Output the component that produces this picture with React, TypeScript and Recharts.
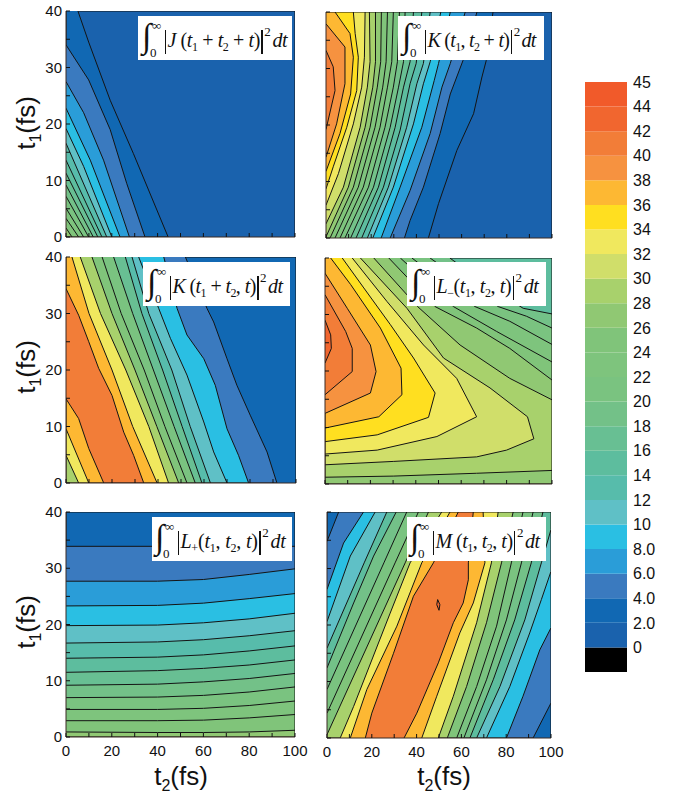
import React from "react";
import { ScatterChart, Scatter, XAxis, YAxis, BarChart, Bar } from "recharts";

type Pt = [number, number];
type Contour = { level: number; pts: Pt[] };

// colour of the band that starts at each contour level
const bandLevels = [-2, 0, 2, 4, 6, 8, 10, 12, 14, 16, 18, 20, 22, 24, 26, 28, 30, 32, 34, 36, 38, 40, 42, 44];
const bandColors = ["#000000", "#1a62ad", "#1168b3", "#3a7abf", "#2a9dd8", "#2abfe3", "#5fc0c6", "#57bcab", "#5dbd9e", "#68bf93", "#73c188", "#7ac380", "#7ec47d", "#80c47a", "#90c873", "#a8d16c", "#d0de6a", "#f0e85e", "#ffdf20", "#fdb833", "#f69240", "#f27d38", "#f1662f", "#f15a2a"];
const colorOf = (level: number) => bandColors[bandLevels.indexOf(level)];

const colorbarTicks = [0, 2, 4, 6, 8, 10, 12, 14, 16, 18, 20, 22, 24, 26, 28, 30, 32, 34, 36, 38, 40, 42, 44, 46];
const colorbarLabels = ["0", "2.0", "4.0", "6.0", "8.0", "10", "12", "14", "16", "18", "20", "22", "24", "26", "28", "30", "32", "34", "36", "38", "40", "42", "44", "45"];
const colorbarSizes = [-2, 2, 2, 2, 2, 2, 2, 2, 2, 2, 2, 2, 2, 2, 2, 2, 2, 2, 2, 2, 2, 2, 2, 2];

const xTicks = [0, 10, 20, 30, 40, 50, 60, 70, 80, 90, 100];
const yTicks = [0, 5, 10, 15, 20, 25, 30, 35, 40];

const full: Pt[] = [[0, 0], [0, 40], [100, 40], [100, 0]];

const panelJ: Contour[] = [
  { level: 0, pts: full },
  { level: 2, pts: [[5.2, 40], [9.9, 34.5], [19.3, 24.2], [29.4, 14.8], [44.6, 0], [0, 0], [0, 40]] },
  { level: 4, pts: [[0, 34], [9.9, 27.8], [19.3, 19], [26.5, 9.5], [34.5, 0], [0, 0]] },
  { level: 6, pts: [[0, 27.5], [7.7, 22], [16.4, 13.6], [27.7, 0], [0, 0]] },
  { level: 8, pts: [[0, 22.8], [10.6, 13.6], [23.6, 0], [0, 0]] },
  { level: 10, pts: [[0, 19.2], [7.7, 12.5], [20, 0], [0, 0]] },
  { level: 12, pts: [[0, 16.6], [17.8, 0], [0, 0]] },
  { level: 14, pts: [[0, 13.6], [15.7, 0], [0, 0]] },
  { level: 16, pts: [[0, 11.3], [13.9, 0], [0, 0]] },
  { level: 18, pts: [[0, 9.2], [11.9, 0], [0, 0]] },
  { level: 20, pts: [[0, 7.2], [9.9, 0], [0, 0]] },
  { level: 22, pts: [[0, 5.1], [7.7, 0], [0, 0]] },
  { level: 24, pts: [[0, 3.3], [5.5, 0], [0, 0]] },
  { level: 26, pts: [[0, 1.6], [2.6, 0], [0, 0]] },
];

const panelK1: Contour[] = [
  { level: 0, pts: full },
  { level: 2, pts: [[45.3, 0], [49.8, 6.1], [57.9, 15.5], [65.3, 22], [69, 28.5], [70.9, 31.4], [73.9, 40], [0, 40], [0, 0]] },
  { level: 4, pts: [[34.7, 0], [37.2, 3.1], [43.1, 9], [50.5, 18.5], [55, 25.5], [60.6, 31.4], [66.8, 40], [0, 40], [0, 0]] },
  { level: 6, pts: [[28.4, 0], [37.2, 8.4], [46.1, 18.5], [51.3, 26.7], [55, 30.9], [61.6, 40], [0, 40], [0, 0]] },
  { level: 8, pts: [[24.4, 0], [32.8, 9], [42.4, 19.6], [47.9, 27.9], [49.8, 30.9], [55, 40], [0, 40], [0, 0]] },
  { level: 10, pts: [[20.7, 0], [29.8, 9], [38.7, 20.2], [43.1, 27.3], [46.1, 31.2], [50.8, 40], [0, 40], [0, 0]] },
  { level: 12, pts: [[18.3, 0], [27.6, 9], [35.7, 19.6], [40.2, 27.3], [43.1, 30.9], [46.1, 40], [0, 40], [0, 0]] },
  { level: 14, pts: [[15.8, 0], [25.4, 9], [32.8, 19.1], [37.2, 27.3], [39.9, 30.9], [42.4, 40], [0, 40], [0, 0]] },
  { level: 16, pts: [[13.3, 0], [23.2, 9], [30.6, 19.6], [34.3, 26.7], [37.2, 31.2], [38.7, 40], [0, 40], [0, 0]] },
  { level: 18, pts: [[10.9, 0], [21, 9], [28.4, 19.6], [32.1, 26.7], [34.3, 31.2], [35, 40], [0, 40], [0, 0]] },
  { level: 20, pts: [[8.4, 0], [18.8, 9], [26.1, 19.6], [29.8, 26.7], [31.6, 31.2], [32.5, 40], [0, 40], [0, 0]] },
  { level: 22, pts: [[6.2, 0], [16.5, 9], [23.9, 19.6], [27.2, 26.7], [29.1, 31.2], [29.8, 40], [0, 40], [0, 0]] },
  { level: 24, pts: [[4, 0], [14.3, 9], [21.7, 19.6], [25.1, 26.7], [26.6, 31.2], [27.2, 40], [0, 40], [0, 0]] },
  { level: 26, pts: [[1.8, 0], [12.1, 9], [19.5, 19.6], [22.7, 26.7], [24.2, 31.2], [24.5, 40], [0, 40], [0, 0]] },
  { level: 28, pts: [[0, 0.2], [9.9, 9], [17.3, 19.6], [20.7, 26.7], [21.9, 31.2], [21.9, 40], [0, 40]] },
  { level: 30, pts: [[0, 2.5], [7.7, 9], [15.1, 19.6], [18.3, 26.7], [19.5, 31.2], [19.2, 40], [0, 40]] },
  { level: 32, pts: [[0, 5.8], [5.5, 11.4], [12.1, 20.2], [15.8, 26.7], [17, 32], [17.3, 40], [0, 40]] },
  { level: 34, pts: [[0, 8.7], [3.2, 12.6], [9.2, 19.6], [13.6, 26.1], [14.3, 32], [12.9, 36.2], [12.1, 40], [0, 40]] },
  { level: 36, pts: [[0, 11.8], [6.2, 18.5], [10.9, 25.5], [12.1, 32], [10.6, 36.2], [4, 40], [0, 40]] },
  { level: 38, pts: [[0, 14.3], [4.7, 20.2], [8.4, 27.3], [8.4, 33.8], [0, 37.9]] },
  { level: 40, pts: [[0, 19.2], [4, 26.1], [3.2, 30.3], [0, 33.2]] },
];

const panelK2: Contour[] = [
  { level: 2, pts: full },
  { level: 4, pts: [[51.9, 40], [61.3, 30.9], [64.2, 28.5], [70, 22], [74.3, 17.3], [80.1, 12], [87.4, 5.5], [91.7, 0], [0, 0], [0, 40]] },
  { level: 8, pts: [[42.5, 40], [48.3, 30.9], [52.6, 26.2], [59.9, 22], [64.9, 17.3], [70, 9.6], [75, 4.9], [79.4, 0], [0, 0], [0, 40]] },
  { level: 10, pts: [[31.6, 40], [40.3, 30.9], [45.4, 25.6], [52.6, 19.1], [59.9, 10.8], [64.2, 5.5], [70, 0], [0, 0], [0, 40]] },
  { level: 12, pts: [[28.7, 40], [36, 30], [46, 20], [54, 10], [62.8, 0], [0, 0], [0, 40]] },
  { level: 16, pts: [[25.8, 40], [33, 30], [42, 20], [50.5, 10], [59.1, 0], [0, 0], [0, 40]] },
  { level: 20, pts: [[20.7, 40], [29, 30], [38, 20], [47, 10], [56.2, 0], [0, 0], [0, 40]] },
  { level: 24, pts: [[15.7, 40], [24, 30], [34, 20], [43, 10], [52.6, 0], [0, 0], [0, 40]] },
  { level: 28, pts: [[11.3, 40], [20, 30], [30, 20], [39.5, 10], [49, 0], [0, 0], [0, 40]] },
  { level: 32, pts: [[6.2, 40], [15, 30], [26, 20], [36, 10], [44.6, 0], [5.5, 0], [0, 4.9], [0, 40]] },
  { level: 36, pts: [[2.6, 40], [10, 30], [20, 20], [29, 10], [39.6, 0], [9.9, 0], [0, 9.6], [0, 40]] },
  { level: 40, pts: [[0, 34.4], [5.5, 29.7], [9.9, 25], [14.2, 20.3], [20, 15.5], [25.1, 9], [29.4, 4.9], [33.8, 0], [16.4, 0], [9.9, 6.1], [5.5, 11.4], [0, 14.9]] },
];

const panelLm: Contour[] = [
  { level: 14, pts: full },
  { level: 18, pts: [[55, 40], [72, 35], [87.3, 31.1], [100, 30.1], [100, 0], [0, 0], [0, 40]] },
  { level: 20, pts: [[46.3, 40], [76.3, 31.4], [88.7, 29.7], [100, 27.6], [100, 0], [0, 0], [0, 40]] },
  { level: 22, pts: [[38.3, 40], [66.1, 31.4], [81.4, 28.8], [100, 24.7], [100, 0], [0, 0], [0, 40]] },
  { level: 24, pts: [[33.2, 40], [56.6, 31.4], [75.6, 27], [100, 21.6], [100, 0], [0, 0], [0, 40]] },
  { level: 26, pts: [[28.1, 40], [48.5, 31.4], [66.8, 27.6], [81.4, 24], [100, 18.4], [100, 0], [0, 0], [0, 40]] },
  { level: 28, pts: [[21.5, 40], [40.8, 31.4], [59.5, 24.6], [81.4, 18.7], [100, 14.9], [100, 2.4], [66.8, 1.9], [30.3, 1.4], [0, 1.2], [0, 40]] },
  { level: 30, pts: [[15.6, 40], [36.1, 31.1], [52.2, 22.3], [72.7, 17], [89.2, 11.9], [92, 8], [80, 6], [66.8, 4.8], [30.3, 4], [0, 3.4], [0, 40]] },
  { level: 32, pts: [[12, 40], [27.3, 32.3], [43.4, 24.6], [58, 18.7], [66.8, 11.9], [49.3, 8.4], [23, 6], [0, 5.3], [0, 40]] },
  { level: 34, pts: [[7.6, 40], [17.1, 34.7], [28.8, 28.2], [39, 22.3], [48.5, 16.1], [45.6, 11.8], [23, 8.7], [0, 7.5], [0, 40]] },
  { level: 36, pts: [[2.5, 40], [11.3, 35.3], [24.4, 27.6], [33.5, 20.5], [33.9, 15.8], [23.7, 11.9], [0, 9.9], [0, 40]] },
  { level: 38, pts: [[0, 37.3], [9.8, 31.1], [20, 24.6], [22.5, 19.9], [20, 16.1], [0, 12.5]] },
  { level: 40, pts: [[0, 33.5], [9.1, 27], [12, 24], [12, 19.9], [0, 15.8]] },
  { level: 42, pts: [[0, 29], [2.5, 26.4], [2.8, 24], [0, 21.4]] },
];

const panelLp: Contour[] = [
  { level: 2, pts: full },
  { level: 4, pts: [[0, 33.9], [40, 33.9], [60, 33.9], [80, 33.9], [100, 33.9], [100, 0], [0, 0]] },
  { level: 6, pts: [[0, 27.7], [40, 27.7], [60, 28], [80, 28.9], [100, 29.9], [100, 0], [0, 0]] },
  { level: 8, pts: [[0, 23.3], [40, 23.4], [60, 23.8], [80, 24.6], [100, 25.5], [100, 0], [0, 0]] },
  { level: 10, pts: [[0, 19.8], [40, 19.9], [60, 20.3], [80, 21], [100, 22], [100, 0], [0, 0]] },
  { level: 12, pts: [[0, 16.7], [40, 16.9], [60, 17.3], [80, 18], [100, 18.9], [100, 0], [0, 0]] },
  { level: 14, pts: [[0, 14], [40, 14.2], [60, 14.6], [80, 15.3], [100, 16.2], [100, 0], [0, 0]] },
  { level: 16, pts: [[0, 11.5], [40, 11.8], [60, 12.2], [80, 12.8], [100, 13.7], [100, 0], [0, 0]] },
  { level: 18, pts: [[0, 9.2], [40, 9.4], [60, 9.8], [80, 10.4], [100, 11.3], [100, 0], [0, 0]] },
  { level: 20, pts: [[0, 7], [40, 7.1], [60, 7.4], [80, 8], [100, 8.9], [100, 0], [0, 0]] },
  { level: 22, pts: [[0, 4.9], [40, 4.9], [60, 5.1], [80, 5.6], [100, 6.4], [100, 0], [0, 0]] },
  { level: 24, pts: [[0, 2.9], [40, 2.9], [60, 3], [80, 3.4], [100, 4], [100, 0], [0, 0]] },
  { level: 26, pts: [[0, 0.9], [40, 0.8], [60, 0.8], [80, 0.9], [100, 1.2], [100, 0], [0, 0]] },
];

const panelM: Contour[] = [
  { level: 2, pts: full },
  { level: 4, pts: [[0, 34.8], [5.2, 40], [100, 40], [100, 6.2], [92, 0], [0, 0]] },
  { level: 8, pts: [[0, 26.3], [7.4, 34.5], [16.3, 40], [100, 40], [100, 19.5], [95, 15.6], [87.5, 7.4], [80.1, 0], [0, 0]] },
  { level: 10, pts: [[0, 20.6], [10.4, 32.2], [21.5, 40], [100, 40], [100, 29.5], [95.7, 24.5], [90.5, 18.6], [81.6, 9.1], [71.2, 0], [0, 0]] },
  { level: 14, pts: [[0, 15.9], [16.6, 31], [26.7, 40], [100, 40], [100, 36.9], [95.7, 31], [88.3, 20.9], [77.2, 9.1], [66.8, 0], [0, 0]] },
  { level: 18, pts: [[0, 12.4], [11.9, 23.9], [20.8, 32.2], [30.9, 40], [96.4, 40], [91.2, 31], [83.8, 20.9], [74.2, 10.3], [63.8, 0], [0, 0]] },
  { level: 20, pts: [[0, 8.6], [25.4, 31], [35.6, 40], [92, 40], [86.8, 31], [80.1, 20.9], [71.2, 10.3], [61.1, 0], [0, 0]] },
  { level: 24, pts: [[0, 4.4], [30.4, 31], [40.8, 40], [87.5, 40], [82.3, 31], [75.7, 19.8], [66.8, 9.1], [57.9, 0], [0, 0]] },
  { level: 28, pts: [[0, 0.6], [34.9, 31], [45.3, 40], [83.1, 40], [77.9, 31], [71.2, 20.4], [62.3, 9.1], [53.7, 0], [0, 0]] },
  { level: 32, pts: [[5.9, 0], [11.9, 5.6], [28.2, 22.1], [37.1, 31], [51.2, 40], [76.4, 40], [73.4, 31], [66.8, 20.4], [56.4, 7.4], [49.7, 0]] },
  { level: 36, pts: [[10.4, 0], [17.8, 8.6], [31.2, 19.8], [42.3, 31], [54.9, 40], [69.7, 40], [70.5, 31], [65.3, 23.9], [59.3, 18.6], [49, 7.4], [42.3, 0]] },
  { level: 40, pts: [[17.1, 0], [20, 4.4], [29.7, 15], [38.6, 25.1], [47.5, 31], [58.6, 40], [65.3, 40], [63.1, 31], [63.1, 28], [60.8, 23.9], [56.4, 20.4], [49.7, 13.3], [40.1, 4.4], [34.4, 0]] },
  { level: 42, pts: [[49.4, 24.5], [50.4, 23.6], [50, 22.6], [49, 23.6], [49.4, 24.5]] },
];

const FONT = '"Liberation Sans", Arial, sans-serif';
const FRAME = "#3a2a25";

function makeTick(axis: "b" | "l" | "t" | "r", showLabels: boolean) {
  return (p: any) => {
    const v = p.payload.value;
    const x = p.x, y = p.y;
    const len = 4;
    const d = { b: [0, -len], t: [0, len], l: [len, 0], r: [-len, 0] }[axis];
    const label = showLabels && (axis === "b" ? v % 20 === 0 : v % 10 === 0);
    return (
      <g>
        <line x1={x} y1={y} x2={x + d[0]} y2={y + d[1]} stroke="#111" strokeWidth={1} />
        {label ? (
          axis === "b" ? (
            <text x={x} y={y + 19} textAnchor="middle" fontFamily={FONT} fontSize={15} fill="#111">{v}</text>
          ) : (
            <text x={x - 4} y={y + 5} textAnchor="end" fontFamily={FONT} fontSize={15} fill="#111">{v}</text>
          )
        ) : null}
      </g>
    );
  };
}

function ContourPanel(props: { contours: Contour[]; x: number; y: number; w: number; h: number; showX: boolean; showY: boolean }) {
  const { contours, x, y, w, h, showX, showY } = props;
  const left = 40, top = 12, right = 14, bottom = 30;
  const axisZ: any = { zIndex: 900 };
  return (
    <div style={{ position: "absolute", left: x - left, top: y - top }}>
      <ScatterChart width={w + left + right} height={h + top + bottom} margin={{ left: 0, top, right, bottom: 0 }}>
        {contours.map((c, i) => (
          <Scatter
            key={i}
            xAxisId="main"
            yAxisId="main"
            data={c.pts.map(([t2, t1]) => ({ t2, t1 }))}
            isAnimationActive={false}
            shape={() => <g />}
            line={{ fill: colorOf(c.level), stroke: "#141414", strokeWidth: 1 }}
            lineType="joint"
            lineJointType="linear"
            legendType="none"
          />
        ))}
        <XAxis {...axisZ} xAxisId="main" type="number" dataKey="t2" domain={[0, 100]} ticks={xTicks} allowDataOverflow interval={0} height={bottom} tickSize={0} tickMargin={0} stroke={FRAME} tick={makeTick("b", showX)} />
        <YAxis {...axisZ} yAxisId="main" type="number" dataKey="t1" domain={[0, 40]} ticks={yTicks} allowDataOverflow interval={0} width={left} tickSize={0} tickMargin={0} stroke={FRAME} tick={makeTick("l", showY)} />
        <XAxis {...axisZ} xAxisId="top" orientation="top" type="number" domain={[0, 100]} ticks={xTicks} interval={0} height={0} tickSize={0} tickMargin={0} stroke={FRAME} tick={makeTick("t", false)} />
        <YAxis {...axisZ} yAxisId="right" orientation="right" type="number" domain={[0, 40]} ticks={yTicks} interval={0} width={0} tickSize={0} tickMargin={0} stroke={FRAME} tick={makeTick("r", false)} />
      </ScatterChart>
    </div>
  );
}

function Script({ text, size }: { text: string; size: number }) {
  const parts = text.split(/(_.)/);
  return (
    <>
      {parts.map((p, i) => {
        if (p.startsWith("_")) {
          return <span key={i} style={{ fontSize: size * 0.6, fontStyle: "normal", verticalAlign: -size * 0.22, lineHeight: 0 }}>{p[1]}</span>;
        }
        return p.split("").map((ch, j) => (
          <span key={i + "-" + j} style={{ fontStyle: /[A-Za-z]/.test(ch) ? "italic" : "normal" }}>{ch}</span>
        ));
      })}
    </>
  );
}

function Formula(props: { x: number; y: number; w: number; h: number; body: string; size: number; pad: number; spacing: number }) {
  const { x, y, w, h, body, size, pad, spacing } = props;
  const bar = { display: "inline-block", width: 1.4, height: 24, background: "#111", verticalAlign: -7, margin: "0 1.5px" } as React.CSSProperties;
  return (
    <div style={{ position: "absolute", left: x, top: y, width: w, height: h, background: "#fff", fontFamily: '"Liberation Serif", serif', fontSize: size, color: "#111", whiteSpace: "nowrap", lineHeight: h + "px" }}>
      <span style={{ position: "absolute", left: pad, top: -3, fontSize: 34, lineHeight: "46px" }}>∫</span>
      <span style={{ position: "absolute", left: pad + 10, top: 3, fontSize: 13, lineHeight: "13px" }}>∞</span>
      <span style={{ position: "absolute", left: pad + 8, top: 30, fontSize: 13, lineHeight: "13px" }}>0</span>
      <span style={{ position: "absolute", left: pad + 21, top: 2, display: "inline-block", letterSpacing: spacing }}>
        <span style={bar} />
        <Script text={body} size={size} />
        <span style={bar} />
        <span style={{ fontSize: 13, verticalAlign: 11, lineHeight: 0 }}>2</span>
        <span style={{ fontStyle: "italic", marginLeft: 2 }}>dt</span>
      </span>
    </div>
  );
}

const AxisTitle = ({ sub }: { sub: string }) => (
  <>t<span style={{ fontSize: 16, verticalAlign: -6, lineHeight: 0 }}>{sub}</span>(fs)</>
);

function Colorbar() {
  const row: Record<string, number> = { name: 0 };
  colorbarSizes.forEach((s, i) => { row["s" + i] = s; });
  const colorbarData = [row];
  const top = 12;
  return (
    <div style={{ position: "absolute", left: 585, top: 82 - top }}>
      <BarChart width={90} height={590 + top + 12} data={colorbarData} margin={{ left: 0, right: 0, top, bottom: 12 }} barCategoryGap={0} stackOffset="sign">
        <XAxis dataKey="name" hide />
        <YAxis orientation="right" type="number" domain={[-2, 46]} ticks={colorbarTicks} interval={0} allowDataOverflow width={48} axisLine={false} tickLine={false} tickSize={0} tickMargin={6} tick={{ fontFamily: FONT, fontSize: 16, fill: "#111" }} tickFormatter={(v: number) => colorbarLabels[colorbarTicks.indexOf(v)]} />
        {colorbarSizes.map((_, i) => (
          <Bar key={i} dataKey={"s" + i} stackId="c" fill={bandColors[i]} isAnimationActive={false} legendType="none" />
        ))}
      </BarChart>
    </div>
  );
}

export default function App() {
  const titleBase = { position: "absolute", width: 80, textAlign: "center", fontFamily: FONT, fontSize: 26, fontWeight: 400, color: "#111", lineHeight: "28px" } as React.CSSProperties;
  const titleY = { ...titleBase, transform: "rotate(-90deg)" } as React.CSSProperties;
  const titleX = (left: number) => ({ ...titleBase, left } as React.CSSProperties);
  return (
    <div style={{ position: "absolute", left: 0, top: 0, width: 678, height: 799, background: "#fff", overflow: "hidden" }}>
      <ContourPanel contours={panelJ} x={66} y={11} w={229} h={226} showX={false} showY />
      <ContourPanel contours={panelK1} x={326} y={12} w={226} h={226} showX={false} showY={false} />
      <ContourPanel contours={panelK2} x={66} y={257} w={230} h={226} showX={false} showY />
      <ContourPanel contours={panelLm} x={325} y={258} w={227} h={226} showX={false} showY={false} />
      <ContourPanel contours={panelLp} x={66} y={512} w={229} h={225} showX showY />
      <ContourPanel contours={panelM} x={327} y={512} w={224} h={226} showX showY={false} />

      <Formula x={138} y={16} w={154} h={44} body="J (t_1 + t_2 + t)" size={20} pad={4} spacing={-0.4} />
      <Formula x={398} y={16} w={146} h={44} body="K (t_1, t_2 + t)" size={20} pad={4} spacing={-0.7} />
      <Formula x={143} y={262} w={147} h={44} body="K (t_1 + t_2, t)" size={20} pad={4} spacing={-0.6} />
      <Formula x={407} y={262} w={139} h={44} body="L_−(t_1, t_2, t)" size={20} pad={4} spacing={-0.4} />
      <Formula x={152} y={517} w={140} h={44} body="L_+(t_1, t_2, t)" size={20} pad={3} spacing={-0.2} />
      <Formula x={407} y={517} w={139} h={44} body="M (t_1, t_2, t)" size={20} pad={3} spacing={-0.5} />

      <div style={{ ...titleY, left: -14, top: 109 }}><AxisTitle sub="1" /></div>
      <div style={{ ...titleY, left: -14, top: 353 }}><AxisTitle sub="1" /></div>
      <div style={{ ...titleY, left: -14, top: 608 }}><AxisTitle sub="1" /></div>
      <div style={{ ...titleX(141), top: 762 }}><AxisTitle sub="2" /></div>
      <div style={{ ...titleX(404), top: 762 }}><AxisTitle sub="2" /></div>

      <Colorbar />
    </div>
  );
}
